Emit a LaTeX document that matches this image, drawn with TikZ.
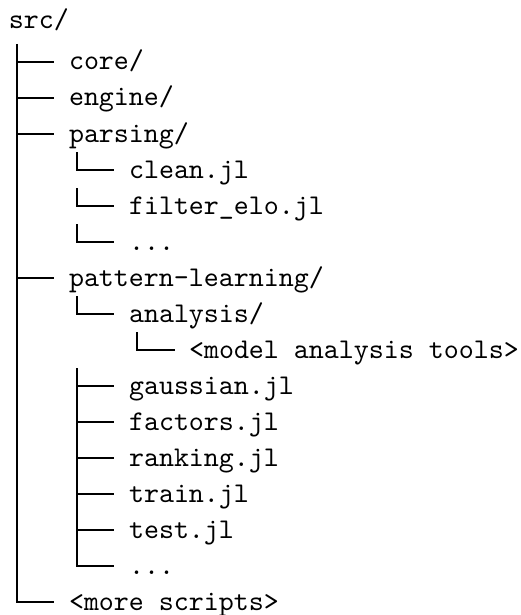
\documentclass[tikz,border=0pt]{standalone}
\begin{document}
\begin{tikzpicture}[x=1pt,y=-1pt,
  lbl/.style={anchor=base west, inner sep=0pt, outer sep=0pt,
    font=\ttfamily\fontsize{10}{12}\selectfont, scale=2.857, transform shape},
  tree/.style={line width=1.6pt, black}]
% canvas
\useasboundingbox (0,0) rectangle (521,615);
\fill[white] (0,0) rectangle (521,615);

% labels: x = left edge of text, y = baseline
\node[lbl] (src)      at (9,29)    {src/};
\node[lbl] (core)     at (69,70)   {core/};
\node[lbl] (engine)   at (69,106)  {engine/};
\node[lbl] (parsing)  at (69,142)  {parsing/};
\node[lbl] (clean)    at (129,178) {clean.jl};
\node[lbl] (filter)   at (129,214) {filter\_elo.jl};
\node[lbl] (pdots)    at (129,250) {...};
\node[lbl] (pattern)  at (69,286)  {pattern-learning/};
\node[lbl] (analysis) at (129,322) {analysis/};
\node[lbl] (model)    at (189,358) {<model analysis tools>};
\node[lbl] (gaussian) at (129,394) {gaussian.jl};
\node[lbl] (factors)  at (129,430) {factors.jl};
\node[lbl] (ranking)  at (129,466) {ranking.jl};
\node[lbl] (train)    at (129,502) {train.jl};
\node[lbl] (test)     at (129,538) {test.jl};
\node[lbl] (tdots)    at (129,574) {...};
\node[lbl] (more)     at (69,610)  {<more scripts>};

% main trunk under src/
\draw[tree] ([shift={(8pt,-15pt)}]src.base west) |- ([shift={(-15pt,8pt)}]more.base west);
\foreach \n in {core,engine,parsing,pattern}
  \draw[tree] ([shift={(-52pt,8pt)}]\n.base west) -- ([shift={(-15pt,8pt)}]\n.base west);

% parsing/ entries, each with its own corner
\foreach \n in {clean,filter,pdots}
  \draw[tree] ([shift={(-52pt,26pt)}]\n.base west) |- ([shift={(-15pt,8pt)}]\n.base west);

% pattern-learning/ entries
\draw[tree] ([shift={(-52pt,26pt)}]analysis.base west) |- ([shift={(-15pt,8pt)}]analysis.base west);
\draw[tree] ([shift={(-52pt,26pt)}]model.base west) |- ([shift={(-14pt,8pt)}]model.base west);
\draw[tree] ([shift={(-52pt,26pt)}]gaussian.base west) |- ([shift={(-15pt,8pt)}]tdots.base west);
\foreach \n in {gaussian,factors,ranking,train,test}
  \draw[tree] ([shift={(-52pt,8pt)}]\n.base west) -- ([shift={(-15pt,8pt)}]\n.base west);
\end{tikzpicture}
\end{document}
